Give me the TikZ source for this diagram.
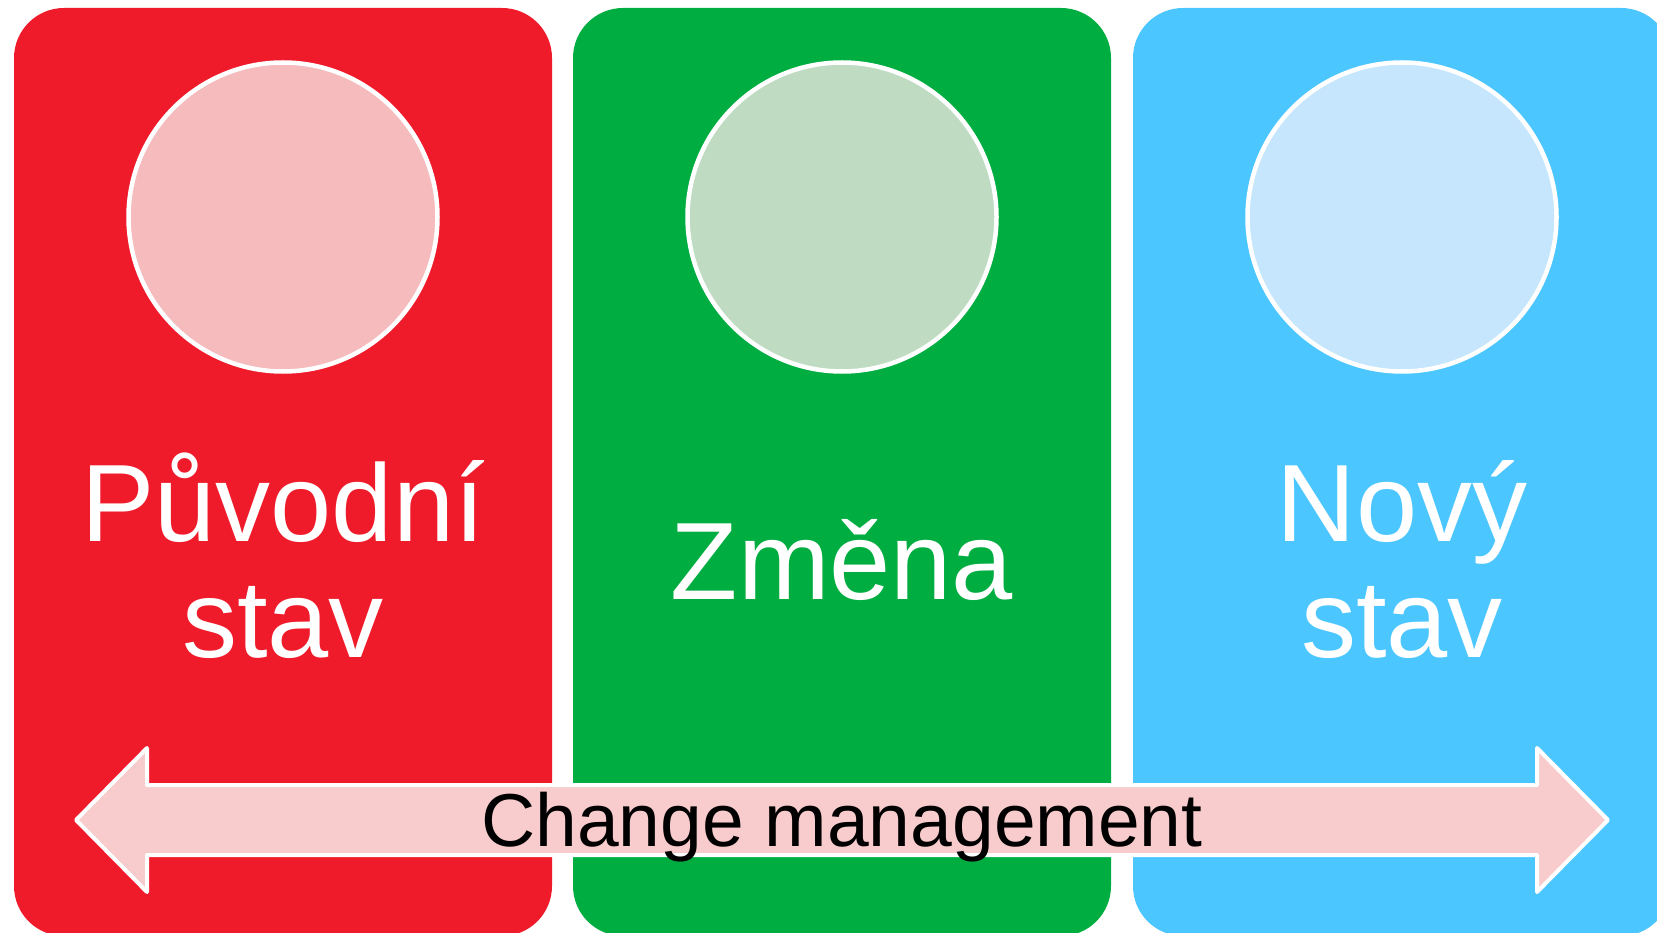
\documentclass[tikz,border=0pt]{standalone}
\usepackage{fontspec}
\setmainfont{Liberation Sans}
\usepackage{tikz}
\usetikzlibrary{calc}
\definecolor{panelred}{HTML}{EF1B2B}
\definecolor{panelgreen}{HTML}{00AD40}
\definecolor{panelblue}{HTML}{4CC6FF}
\definecolor{discred}{HTML}{F6BBBC}
\definecolor{discgreen}{HTML}{BFDCC3}
\definecolor{discblue}{HTML}{C5E6FC}
\definecolor{arrowpink}{HTML}{F8CBCC}
\tikzstyle{panel} = [rectangle, rounded corners=50pt, minimum width=538pt, minimum height=928pt, inner sep=0pt]
\tikzstyle{disc} = [circle, draw=white, line width=4.5pt, minimum size=309pt, inner sep=0pt]
\tikzstyle{title} = [text=white, align=center, font=\fontsize{110}{116}\selectfont, anchor=base]
\tikzstyle{band} = [draw=white, line width=4pt, line join=round, fill=arrowpink]

\begin{document}
\begin{tikzpicture}[x=1pt, y=-1pt]
        \useasboundingbox (0,0) rectangle (1657,933);
        \clip (0,0) rectangle (1657,933);
        \node[panel, fill=panelred] (old) at (283,472) {};
        \node[panel, fill=panelgreen] (change) at (842,472) {};
        \node[panel, fill=panelblue] (new) at (1402,472) {};
        \node[disc, fill=discred] (olddisc) at (283,217) {};
        \node[disc, fill=discgreen] (changedisc) at (842,217) {};
        \node[disc, fill=discblue] (newdisc) at (1402,217) {};
        \node[title] (oldtext) at (283,657) {Původní\\stav};
        \node[title] (changetext) at (842,599) {Změna};
        \node[title] (newtext) at (1402,657) {Nový\\stav};
        \path[band] (76,820) -- (147,748) -- (147,785) -- (1537,785) -- (1537,748)
            -- (1608,820) -- (1537,892) -- (1537,855) -- (147,855) -- (147,892) -- cycle;
        \node[font=\fontsize{75}{80}\selectfont, anchor=base] (cm) at (842,846) {Change management};
    \end{tikzpicture}
\end{document}
